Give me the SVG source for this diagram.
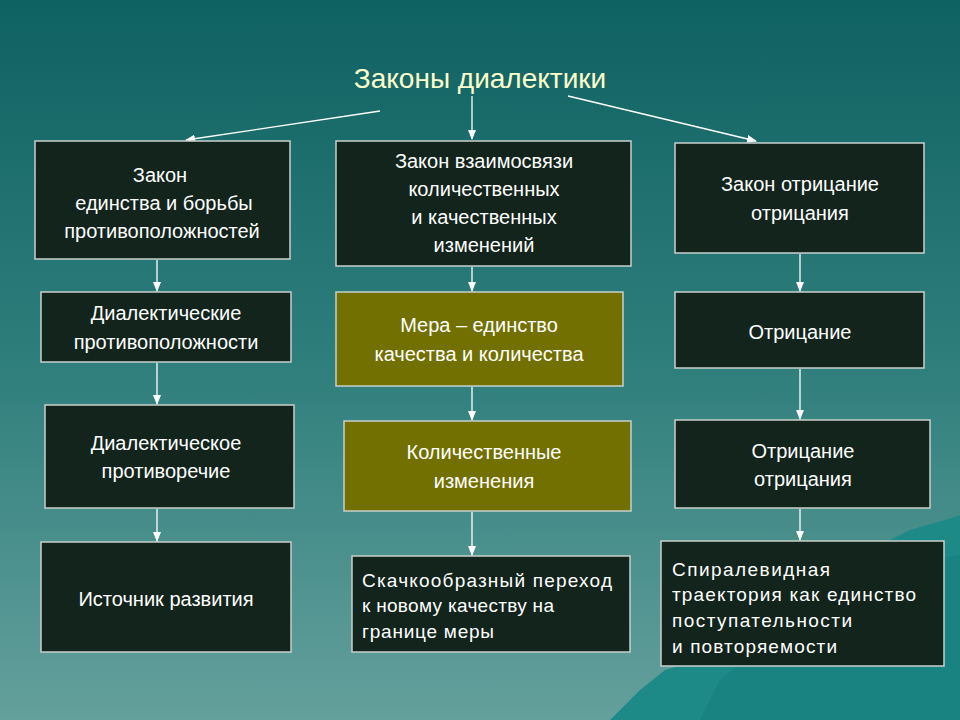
<svg xmlns="http://www.w3.org/2000/svg" width="960" height="720" viewBox="0 0 960 720">
<defs>
<linearGradient id="bg" x1="0" y1="0" x2="0" y2="1">
<stop offset="0" stop-color="#0f6262"/>
<stop offset="0.5" stop-color="#2e7e7c"/>
<stop offset="1" stop-color="#64a09c"/>
</linearGradient>
<marker id="ah" markerWidth="10" markerHeight="8" refX="9" refY="4" orient="auto" markerUnits="userSpaceOnUse">
<path d="M0,0 L10,4 L0,8 Z" fill="#ffffff"/>
</marker>
<style>
.box{fill:#12241c;stroke:#c8d0cc;stroke-width:1.5}
.ol{fill:#727000;stroke:#c8d0cc;stroke-width:1.5}
.t{font-family:"Liberation Sans",Arial,sans-serif;font-size:20px;fill:#ffffff;text-anchor:middle}
.n{font-family:"Liberation Sans",Arial,sans-serif;font-size:19px;fill:#ffffff}
.c{stroke:#ffffff;stroke-width:1.3;fill:none;marker-end:url(#ah)}
</style>
</defs>
<rect width="960" height="720" fill="url(#bg)"/>
<path d="M610,720 L640,690 L665,670 L700,660 L730,640 L760,625 L790,600 L820,585 L850,565 L880,545 L910,530 L945,520 L960,515 L960,720 Z" fill="#1e8a88"/>
<path d="M700,720 L720,680 L745,660 L770,640 L800,620 L830,605 L860,590 L890,575 L930,560 L960,555 L960,720 Z" fill="#178080" opacity="0.7"/>
<text x="480" y="88" font-family="Liberation Sans,Arial,sans-serif" font-size="28" fill="#ffffcc" text-anchor="middle">Законы диалектики</text>
<g id="connectors">
<line class="c" x1="380" y1="111" x2="186" y2="140"/>
<line class="c" x1="472" y1="96" x2="472" y2="139"/>
<line class="c" x1="568" y1="96" x2="756" y2="141"/>
<line class="c" x1="157" y1="260" x2="157" y2="291"/>
<line class="c" x1="157" y1="363" x2="157" y2="404"/>
<line class="c" x1="157" y1="509" x2="157" y2="541"/>
<line class="c" x1="472" y1="267" x2="472" y2="291"/>
<line class="c" x1="472" y1="387" x2="472" y2="420"/>
<line class="c" x1="472" y1="512" x2="472" y2="555"/>
<line class="c" x1="800" y1="254" x2="800" y2="291"/>
<line class="c" x1="800" y1="369" x2="800" y2="419"/>
<line class="c" x1="800" y1="509" x2="800" y2="540"/>
</g>
<g id="a1"><rect class="box" x="35" y="141" width="255" height="118"/>
<text class="t" x="160" y="182">Закон</text><text class="t" x="164" y="210">единства и борьбы</text><text class="t" x="162" y="238">противоположностей</text></g>
<g id="a2"><rect class="box" x="41" y="292" width="250" height="70"/>
<text class="t" x="166" y="320">Диалектические</text><text class="t" x="166" y="349">противоположности</text></g>
<g id="a3"><rect class="box" x="45" y="405" width="249" height="103"/>
<text class="t" x="166" y="450">Диалектическое</text><text class="t" x="166" y="478">противоречие</text></g>
<g id="a4"><rect class="box" x="41" y="542" width="250" height="110"/>
<text class="t" x="166" y="606">Источник развития</text></g>
<g id="b1"><rect class="box" x="336" y="141" width="295" height="125"/>
<text class="t" x="484" y="168">Закон взаимосвязи</text><text class="t" x="484" y="196">количественных</text><text class="t" x="484" y="224">и качественных</text><text class="t" x="484" y="252">изменений</text></g>
<g id="b2"><rect class="ol" x="336" y="292" width="287" height="94"/>
<text class="t" x="479" y="332">Мера – единство</text><text class="t" x="479" y="361">качества и количества</text></g>
<g id="b3"><rect class="ol" x="344" y="421" width="287" height="90"/>
<text class="t" x="484" y="459">Количественные</text><text class="t" x="484" y="488">изменения</text></g>
<g id="b4"><rect class="box" x="352" y="556" width="278" height="96"/>
<text class="n" x="362" y="587" textLength="250">Скачкообразный переход</text><text class="n" x="362" y="612" textLength="192">к новому качеству на</text><text class="n" x="362" y="638" textLength="132">границе меры</text></g>
<g id="c1"><rect class="box" x="675" y="143" width="249" height="110"/>
<text class="t" x="800" y="191">Закон отрицание</text><text class="t" x="800" y="220">отрицания</text></g>
<g id="c2"><rect class="box" x="675" y="292" width="249" height="76"/>
<text class="t" x="800" y="339">Отрицание</text></g>
<g id="c3"><rect class="box" x="675" y="420" width="255" height="88"/>
<text class="t" x="803" y="458">Отрицание</text><text class="t" x="803" y="486">отрицания</text></g>
<g id="c4"><rect class="box" x="661" y="541" width="283" height="125"/>
<text class="n" x="672" y="576" textLength="158">Спиралевидная</text><text class="n" x="672" y="601" textLength="244">траектория как единство</text><text class="n" x="672" y="627" textLength="180">поступательности</text><text class="n" x="672" y="653" textLength="165">и повторяемости</text></g>
</svg>
